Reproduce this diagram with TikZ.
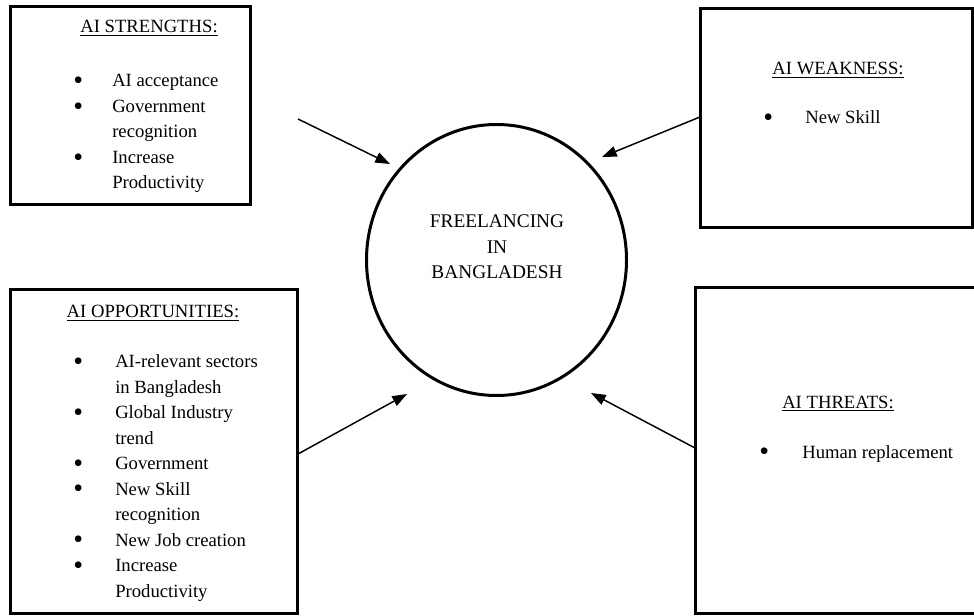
\documentclass[tikz,border=0pt]{standalone}
\usepackage{fontspec}
\usepackage{graphicx}
\setmainfont{Liberation Serif}
\usetikzlibrary{shapes.geometric,fit,arrows.meta}

\newcommand{\bul}{\raisebox{-2pt}{\scalebox{1.5}{\textbullet}}}

\tikzset{
  box/.style={draw, line width=2.25pt, inner sep=0pt},
  title/.style={anchor=base, inner sep=0pt, font=\fontsize{14}{19.1}\selectfont},
  items/.style={anchor=base west, inner sep=0pt, font=\fontsize{14}{19.1}\selectfont},
  arr/.style={-{Triangle[length=11pt,width=8pt]}, line width=1.1pt}
}

\begin{document}
\begin{tikzpicture}[x=0.75pt,y=-0.75pt]
  \useasboundingbox (0,0) rectangle (974,616);
  \clip (0,0) rectangle (974,616);

  % centre
  \node[ellipse, draw, line width=2.25pt, inner sep=0pt,
        minimum width=195pt, minimum height=203.25pt] (free) at (496.5,260) {};
  \node[title, font=\fontsize{14.5}{19.1}\selectfont] (freetxt) at (497,228)
    {\begin{tabular}[t]{@{}c@{}}FREELANCING\\IN\\BANGLADESH\end{tabular}};

  % strengths
  \node[box, fit={(10,7) (250,205)}] (str) {};
  \node[title] (strT) at (149,33) {\underline{AI STRENGTHS:}};
  \node[items] (strL) at (73,87) {\begin{tabular}[t]{@{}p{29.25pt}@{}l@{}}
    \bul & AI acceptance\\
    \bul & Government\\
         & recognition\\
    \bul & Increase\\
         & Productivity
  \end{tabular}};

  % weakness
  \node[box, fit={(700,9) (972,228)}] (weak) {};
  \node[title] (weakT) at (838,75) {\underline{AI WEAKNESS:}};
  \node[items] (weakL) at (763,124) {\begin{tabular}[t]{@{}p{31.5pt}@{}l@{}}
    \bul & New Skill
  \end{tabular}};

  % opportunities
  \node[box, fit={(10,290) (297,613)}] (opp) {};
  \node[title] (oppT) at (153,318) {\underline{AI OPPORTUNITIES:}};
  \node[items] (oppL) at (73,368) {\begin{tabular}[t]{@{}p{31.5pt}@{}l@{}}
    \bul & AI-relevant sectors\\
         & in Bangladesh\\
    \bul & Global Industry\\
         & trend\\
    \bul & Government\\
    \bul & New Skill\\
         & recognition\\
    \bul & New Job creation\\
    \bul & Increase\\
         & Productivity
  \end{tabular}};

  % threats
  \node[box, fit={(695,288) (980,613)}] (thr) {};
  \node[title] (thrT) at (838,408) {\underline{AI THREATS:}};
  \node[items] (thrL) at (759,458) {\begin{tabular}[t]{@{}p{32.25pt}@{}l@{}}
    \bul & Human replacement
  \end{tabular}};

  % arrows
  \coordinate (strA) at (298,119);
  \coordinate (strB) at (390,164);
  \coordinate (weakA) at (700,117);
  \coordinate (weakB) at (602,157);
  \coordinate (oppA) at (298,454);
  \coordinate (oppB) at (407,394);
  \coordinate (thrA) at (695,448);
  \coordinate (thrB) at (591,393);
  \draw[arr] (strA) -- (strB);
  \draw[arr] (weakA) -- (weakB);
  \draw[arr] (oppA) -- (oppB);
  \draw[arr] (thrA) -- (thrB);
\end{tikzpicture}
\end{document}
